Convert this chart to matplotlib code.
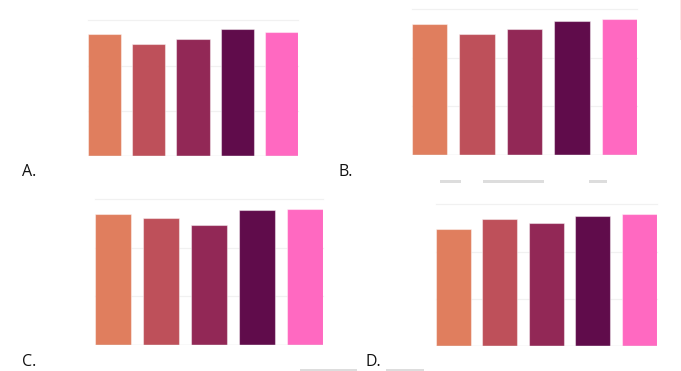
import matplotlib
matplotlib.use("Agg")
import matplotlib.pyplot as plt
from matplotlib.patches import Rectangle

# bar colours, same order in every panel
colors = ["#E07E5E", "#BE505A", "#922856", "#600C4B", "#FF69C1"]

# values (gridlines at 1, 2, 3)
values_a = [2.69, 2.47, 2.59, 2.80, 2.75]
values_b = [2.69, 2.48, 2.59, 2.76, 2.80]
values_c = [2.68, 2.60, 2.47, 2.76, 2.79]
values_d = [2.48, 2.69, 2.60, 2.75, 2.79]
panel_labels = ["A.", "B.", "C.", "D."]

W, H = 681, 371
fig = plt.figure(figsize=(W / 100, H / 100), dpi=100)
fig.patch.set_facecolor("white")

# panel boxes in pixels: left, right, baseline y, top gridline y
boxes = [
    (88, 298, 156, 20.3),
    (411.7, 637.3, 154.7, 9),
    (95.3, 323, 345.3, 198.7),
    (435.7, 657, 346.3, 204.3),
]
# label text baselines in pixels
label_pos = [(22, 175.5), (338, 175.5), (22, 366.5), (366, 366.5)]


def bar_panel(box, vals):
    x0, x1, yb, yt = box
    ax = fig.add_axes([x0 / W, 1 - yb / H, (x1 - x0) / W, (yb - yt) / H])
    xs = list(range(len(vals)))
    ax.bar(xs, vals, width=0.75, color=colors, edgecolor=(1, 1, 1, 0.45),
           linewidth=0.8, zorder=3)
    ax.set_xlim(-0.375, len(vals) - 1 + 0.375)
    ax.set_ylim(0, 3)
    for g in [1, 2, 3]:
        ax.axhline(g, color="#f1f1f1", lw=0.9, zorder=1, clip_on=False)
    ax.axhline(0, color="#e4e4e4", lw=1.0, zorder=4)
    for s in ax.spines.values():
        s.set_visible(False)
    ax.set_xticks([])
    ax.set_yticks([])
    ax.patch.set_alpha(0)
    return ax


for box, vals in zip(boxes, [values_a, values_b, values_c, values_d]):
    bar_panel(box, vals)

for (x, y), lab in zip(label_pos, panel_labels):
    fig.text(x / W, 1 - y / H, lab, fontsize=11.5, va="baseline", ha="left",
             family="Open Sans", color="#111111")

# faint leftover shapes from the source screenshot
for x0, x1, y0, y1 in [(440, 461, 180, 183), (483, 544, 180, 183),
                       (589, 607, 180, 183), (300, 357, 369, 370.5),
                       (386, 424, 369, 370.5)]:
    fig.patches.append(Rectangle((x0 / W, 1 - y1 / H), (x1 - x0) / W,
                                 (y1 - y0) / H, transform=fig.transFigure,
                                 facecolor="#dddddd", edgecolor="none"))
fig.patches.append(Rectangle((679.5 / W, 1 - 40 / H), 1 / W, 40 / H,
                             transform=fig.transFigure,
                             facecolor="#fde6e6", edgecolor="none"))

fig.savefig("out.png", dpi=100)
